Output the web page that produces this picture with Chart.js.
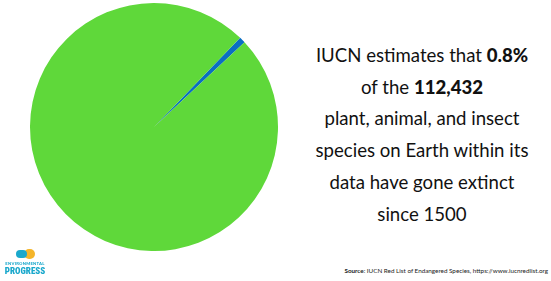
<!DOCTYPE html>
<html>
<head>
<meta charset="utf-8">
<script src="https://cdn.jsdelivr.net/npm/chart.js@4"></script>
<style>
  html, body { margin: 0; padding: 0; background: #fff; }
  body { width: 551px; height: 281px; position: relative; overflow: hidden; font-family: Lato, "Open Sans", sans-serif; }
  #pieBox { position: absolute; left: 30px; top: 3px; width: 248px; height: 248px; }
  #note { position: absolute; left: 292px; top: 40px; width: 260px; text-align: center; font-size: 18.6px; line-height: 31.7px; color: #111; }
  #note b { font-weight: 900; }
  #source { position: absolute; right: 3px; top: 267px; font-size: 6.3px; color: #222; white-space: nowrap; }
  #logo { position: absolute; left: 2px; top: 249px; width: 46px; text-align: center; color: #1aa8cc; font-weight: 900; }
  #logo .icon { position: relative; width: 19px; height: 10px; margin: 0 auto 2px; }
  #logo .e { position: absolute; left: 0; top: 1px; width: 11px; height: 8px; border-radius: 4px; background: #1aa8cc; }
  #logo .p { position: absolute; left: 8px; top: 0; width: 11px; height: 10px; border-radius: 5px; background: #f4b52a; }
  #logo .t1 { font-size: 4.2px; letter-spacing: 0.25px; line-height: 6px; }
  #logo .t2 { font-size: 9px; line-height: 9px; font-family: "Roboto Condensed", Roboto, sans-serif; }
</style>
</head>
<body>
<div id="pieBox"><canvas id="chart"></canvas></div>
<div id="note">IUCN estimates that <b>0.8%</b><br>of the <b>112,432</b><br>plant, animal, and insect<br>species on Earth within its<br>data have gone extinct<br>since 1500</div>
<div id="source"><b>Source</b>: IUCN Red List of Endangered Species, https://www.iucnredlist.org</div>
<div id="logo">
  <div class="icon"><div class="p"></div><div class="e"></div></div>
  <div class="t1">ENVIRONMENTAL</div>
  <div class="t2">PROGRESS</div>
</div>
<script>
const labels = ['Extinct since 1500', 'Not extinct'];
const shares = [0.8, 99.2];
const colors = ['#0a6fc3', '#5fd83a'];

const ctx = document.getElementById('chart').getContext('2d');
const myChart = new Chart(ctx, {
    type: 'pie',
    data: {
        labels: labels,
        datasets: [{
            data: shares,
            backgroundColor: colors,
            borderWidth: 0,
        }]
    },
    options: {
        responsive: true,
        maintainAspectRatio: false,
        animation: false,
        rotation: 44,
        layout: { padding: 0 },
        plugins: {
            legend: { display: false },
            tooltip: { enabled: false }
        }
    }
});
</script>
</body>
</html>
